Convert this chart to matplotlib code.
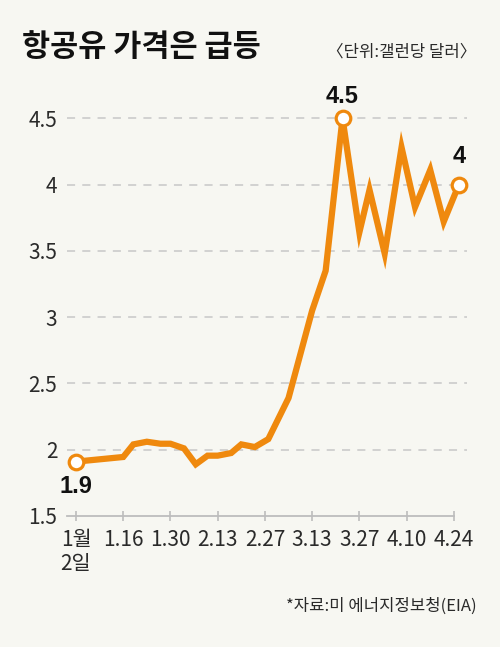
import matplotlib
matplotlib.use("Agg")
import matplotlib.pyplot as plt

# ---- data ----
days = [0, 14, 17, 21, 25, 28, 32, 35.5, 39, 42, 46, 49, 53, 57, 63, 70, 74, 79,
        84, 87, 91.5, 96.5, 100.5, 105, 109, 113.5]
prices = [1.91, 1.945, 2.04, 2.06, 2.045, 2.045, 2.01, 1.89, 1.955, 1.955, 1.975,
          2.04, 2.02, 2.08, 2.39, 3.05, 3.35, 4.5, 3.64, 3.96, 3.48, 4.28, 3.83,
          4.11, 3.72, 4.0]
x_tick_days = [0, 14, 28, 42, 56, 70, 84, 98, 112]
x_tick_labels = ['1월\n2일', '1.16', '1.30', '2.13', '2.27', '3.13', '3.27', '4.10', '4.24']
y_ticks = [1.5, 2, 2.5, 3, 3.5, 4, 4.5]
y_tick_labels = ['1.5', '2', '2.5', '3', '3.5', '4', '4.5']
highlight_idx = [0, 17, 25]
highlight_text = ['1.9', '4.5', '4']

title = '항공유 가격은 급등'
unit = '〈단위:갤런당 달러〉'
source = '*자료:미 에너지정보청(EIA)'

# ---- style ----
BG = '#F7F7F2'
ORANGE = '#EF890E'
GRID = '#C8C8C8'
TXT = '#2a2a2a'
CJK = ['Noto Sans CJK KR', 'DejaVu Sans']

fig = plt.figure(figsize=(5.0, 6.47), dpi=100, facecolor=BG)
ax = fig.add_axes([0.134, 0.2025, 0.80, 0.6352], facecolor=BG)

xmin, xmax = -2.67, 115.9
ax.set_xlim(xmin, xmax)
ax.set_ylim(1.5, 4.6)

for yv in y_ticks[1:]:
    ax.axhline(yv, color=GRID, lw=1.1, linestyle=(0, (5.3, 4.7)), zorder=1)

ax.plot(days, prices, color=ORANGE, lw=4.5, solid_joinstyle='miter',
        solid_capstyle='butt', zorder=3)
hx = [days[i] for i in highlight_idx]
hy = [prices[i] for i in highlight_idx]
ax.plot(hx, hy, linestyle='none', marker='o', markersize=10.5,
        markerfacecolor='white', markeredgecolor=ORANGE, markeredgewidth=2.3,
        zorder=4, clip_on=False)

offsets = [(0, -18), (0, 16), (0, 20)]
for i, t, off in zip(highlight_idx, highlight_text, offsets):
    ax.annotate(t, (days[i], prices[i]), xytext=off, textcoords='offset points',
                ha='center', va='center', fontsize=17, fontweight='bold',
                family=['Liberation Sans', 'DejaVu Sans'], color='#111111',
                annotation_clip=False)

for s in ['top', 'right', 'left']:
    ax.spines[s].set_visible(False)
ax.spines['bottom'].set_color('#BDBDBD')
ax.spines['bottom'].set_linewidth(1.3)
ax.spines['bottom'].set_bounds(xmin, x_tick_days[-1])

ax.set_xticks(x_tick_days)
ax.set_xticklabels(x_tick_labels)
ax.set_yticks(y_ticks)
ax.set_yticklabels(y_tick_labels)
ax.tick_params(axis='x', direction='inout', length=7, width=1.2, color='#BDBDBD',
               pad=6, labelsize=15, labelcolor=TXT)
ax.tick_params(axis='y', length=0, pad=7, labelsize=15, labelcolor=TXT)
for lab in ax.get_xticklabels() + ax.get_yticklabels():
    lab.set_family(CJK)
for lab in ax.get_xticklabels():
    lab.set_linespacing(1.1)

fig.text(0.044, 0.9266, title, fontsize=22, fontweight='bold', family=CJK,
         color='#111111', ha='left', va='center')
fig.text(0.952, 0.9196, unit, fontsize=12, family=CJK, color=TXT,
         ha='right', va='center')
fig.text(0.954, 0.0634, source, fontsize=12, family=CJK, color=TXT,
         ha='right', va='center')

fig.savefig('out.png', dpi=100, facecolor=BG)
